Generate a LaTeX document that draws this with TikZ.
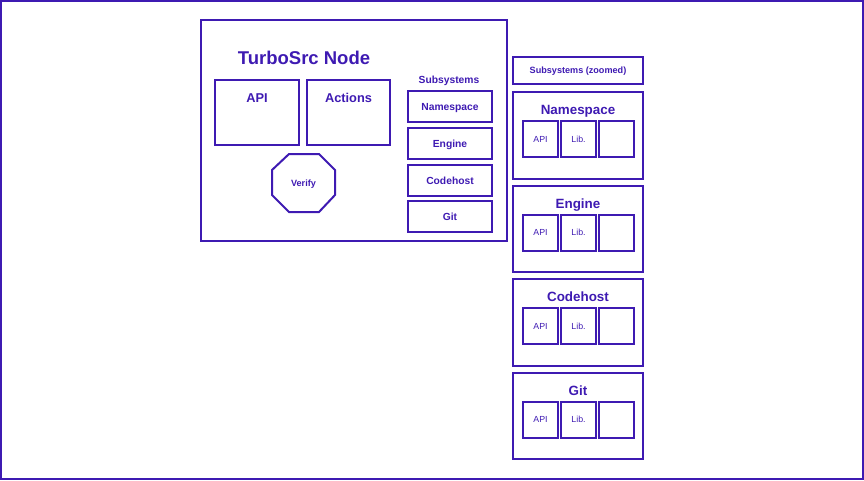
\documentclass[tikz,border=0pt]{standalone}
\usepackage{fontspec}
\setmainfont{Liberation Sans}
\definecolor{ink}{RGB}{62,26,178}
\begin{document}
\begin{tikzpicture}[x=1pt,y=-1pt,
  box/.style={draw=ink, line width=2pt, inner sep=0pt, text depth=0pt},
  bt/.style={text=ink, inner sep=0pt, text depth=0pt},
  ttl/.style={font=\bfseries\fontsize{18.5}{20}\selectfont, text height=13.3pt},
  big/.style={font=\bfseries\fontsize{12.8}{14}\selectfont, text height=9.2pt},
  zt/.style={font=\bfseries\fontsize{13.4}{15}\selectfont, text height=9.6pt},
  mid/.style={font=\bfseries\fontsize{10.3}{12}\selectfont, text height=7.4pt},
  sm/.style={font=\bfseries\fontsize{9.1}{10}\selectfont, text height=6.55pt},
  reg/.style={font=\fontsize{8.8}{10}\selectfont, text height=6.3pt}]
\useasboundingbox (0,0) rectangle (864,480);
\draw[ink, line width=2pt] (1,1) rectangle (863,479);
% main node
\node[box, minimum width=306pt, minimum height=221pt] (main) at (354,130.5) {};
\node[bt, ttl] (title) at (304,58) {TurboSrc Node};
\node[box, minimum width=84pt, minimum height=65pt] (api) at (257,112.5) {};
\node[bt, big] (apit) at (257,98.3) {API};
\node[box, minimum width=83pt, minimum height=65pt] (actions) at (348.5,112.5) {};
\node[bt, big] (actionst) at (348.5,98.3) {Actions};
\draw[ink, line width=2pt] (289,154) -- (319,154) -- (335,170) -- (335,195) -- (319,212) -- (289,212) -- (272,195) -- (272,170) -- cycle;
\node[bt, sm] (verify) at (303.5,183) {Verify};
\node[bt, mid] (subs) at (449,80) {Subsystems};
\foreach \n/\y in {Namespace/106.5, Engine/143.5, Codehost/180.5, Git/216.5}{
  \node[box, mid, minimum width=84pt, minimum height=31pt, text=ink] (s\n) at (450,\y) {\n};
}
% zoomed column
\node[box, sm, minimum width=130pt, minimum height=27pt, text=ink] (zoomed) at (578,70.5) {Subsystems (zoomed)};
\foreach \n/\t in {Namespace/92, Engine/185.5, Codehost/279, Git/372.5}{
  \node[box, minimum width=130pt, minimum height=86.5pt] (z\n) at (578,\t+43.25) {};
  \node[bt, zt] (z\n t) at (578,\t+18) {\n};
  \node[box, reg, minimum width=35pt, minimum height=36pt, text=ink] (z\n a) at (540.5,\t+47) {API};
  \node[box, reg, minimum width=35pt, minimum height=36pt, text=ink] (z\n l) at (578.5,\t+47) {Lib.};
  \node[box, minimum width=35pt, minimum height=36pt] (z\n e) at (616.5,\t+47) {};
}
\end{tikzpicture}
\end{document}
